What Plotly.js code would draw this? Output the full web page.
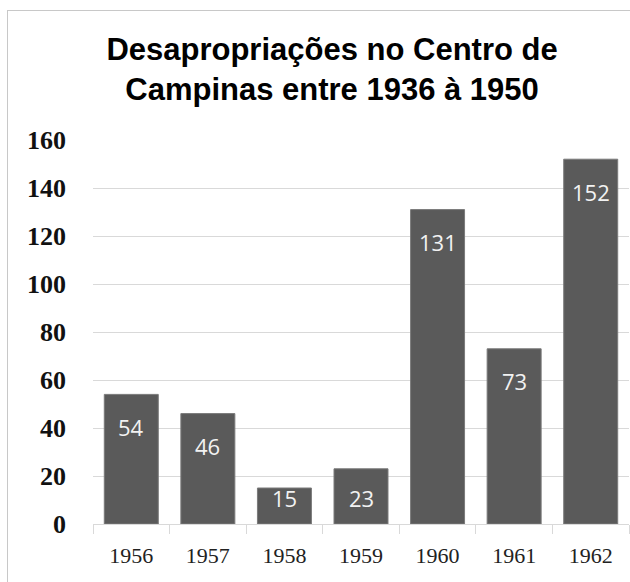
<!DOCTYPE html>
<html>
<head>
<meta charset="utf-8">
<script src="https://cdn.plot.ly/plotly-3.0.1.min.js"></script>
<style>
  html, body { margin: 0; padding: 0; background: #ffffff; overflow: hidden; }
  #frame { position: absolute; left: 7px; top: 10px; width: 623px; height: 572px;
           border-left: 1px solid #c8c8c8; border-top: 1px solid #c8c8c8; box-sizing: border-box; }
  #chart { width: 622px; height: 571px; }
</style>
</head>
<body>
<div id="frame"><div id="chart"></div></div>
<script>
const titleText = "Desapropriações no Centro de<br>Campinas entre 1936 à 1950";
const years = ["1956", "1957", "1958", "1959", "1960", "1961", "1962"];
const counts = [54, 46, 15, 23, 131, 73, 152];
const yTicks = [0, 20, 40, 60, 80, 100, 120, 140, 160];

const trace = {
  type: "bar",
  x: years,
  y: counts,
  marker: { color: "#5a5a5a", line: { color: "#7a7a7a", width: 1 } },
  hoverinfo: "x+y"
};

// category axis: annotations use the category index
const annotations = years.map((yr, i) => ({
  x: i,
  y: Math.max(counts[i] - 13.5, 11),
  xref: "x", yref: "y",
  text: String(counts[i]),
  showarrow: false,
  yanchor: "middle",
  font: { family: "Open Sans, sans-serif", size: 22, color: "#f2f2f2" }
}));

const layout = {
  width: 622, height: 571,
  paper_bgcolor: "#ffffff", plot_bgcolor: "#ffffff",
  margin: { l: 85, r: 1, t: 129, b: 58 },
  showlegend: false,
  bargap: 0.295,
  title: {
    text: titleText,
    font: { family: "Liberation Sans, Arial, sans-serif", size: 31, color: "#000000", weight: "bold" },
    xref: "container", yref: "container",
    x: 0.521, xanchor: "center",
    y: 0.915, yanchor: "top"
  },
  xaxis: {
    type: "category",
    range: [-0.5, years.length - 0.5],
    tickson: "boundaries",
    ticks: "outside", ticklen: 9, tickcolor: "#d9d9d9", tickwidth: 1,
    showline: true, linecolor: "#d9d9d9", linewidth: 1,
    showgrid: false, zeroline: false,
    ticklabelstandoff: 12,
    tickangle: 0,
    tickfont: { family: "Liberation Serif, serif", size: 22, color: "#222222" }
  },
  yaxis: {
    range: [0, 160],
    tickvals: yTicks,
    ticktext: yTicks.map(String),
    showgrid: true, gridcolor: "#d9d9d9", gridwidth: 1,
    zeroline: false, showline: false, ticks: "",
    ticklabelstandoff: 26,
    tickfont: { family: "Liberation Serif, serif", size: 26, color: "#111111", weight: "bold" }
  },
  annotations: annotations
};

Plotly.newPlot("chart", [trace], layout, { displayModeBar: false, staticPlot: true });
</script>
</body>
</html>
